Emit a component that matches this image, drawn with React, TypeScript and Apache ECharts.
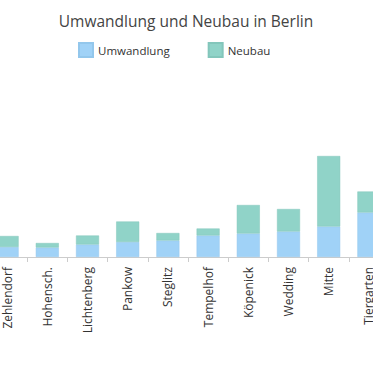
import React, { useEffect, useRef } from "react";
import * as echarts from "echarts";

const categories = ["Zehlendorf", "Hohensch.", "Lichtenberg", "Pankow", "Steglitz", "Tempelhof", "Köpenick", "Wedding", "Mitte", "Tiergarten"];
const umwandlung = [100, 95, 125, 150, 165, 215, 235, 255, 305, 445];
const neubau = [110, 45, 90, 205, 75, 70, 285, 225, 705, 210];

const OFFSET = 13;

export default function App() {
  const ref = useRef<HTMLDivElement>(null);
  useEffect(() => {
    if (!ref.current) return;
    const chart = echarts.init(ref.current, null, { renderer: "svg" });
    const font = "'Open Sans', 'Noto Sans', sans-serif";
    chart.setOption({
      animation: false,
      textStyle: { fontFamily: font },
      title: {
        text: "Umwandlung und Neubau in Berlin",
        left: 181 + OFFSET,
        textAlign: "center",
        top: 8,
        textStyle: { fontSize: 15.5, fontWeight: "normal", color: "#444", fontFamily: font },
      },
      legend: {
        data: ["Umwandlung", "Neubau"],
        top: 37,
        left: 73 + OFFSET,
        itemWidth: 14,
        itemHeight: 14,
        itemGap: 38,
        icon: "rect",
        textStyle: { fontSize: 11.5, color: "#333", fontFamily: font },
      },
      grid: { left: 0, right: 0, top: 77, bottom: 116, containLabel: false },
      xAxis: {
        type: "category",
        data: categories,
        boundaryGap: true,
        axisLine: { lineStyle: { color: "#ccc" } },
        axisTick: { show: true, length: 5, lineStyle: { color: "#ccc" } },
        axisLabel: { rotate: 90, fontSize: 12, color: "#333", margin: 10, fontFamily: font },
      },
      yAxis: {
        type: "value",
        min: 0,
        max: 1800,
        show: false,
        splitLine: { show: false },
      },
      series: [
        {
          name: "Umwandlung",
          type: "bar",
          stack: "a",
          data: umwandlung,
          barWidth: 23,
          itemStyle: { color: "#a0d2f7", borderColor: "#93c7ec", borderWidth: 0.5 },
        },
        {
          name: "Neubau",
          type: "bar",
          stack: "a",
          data: neubau,
          barWidth: 23,
          itemStyle: { color: "#90d3c8", borderColor: "#83c6bb", borderWidth: 0.5 },
        },
      ],
    });
    return () => chart.dispose();
  }, []);
  return (
    <div style={{ position: "fixed", left: 0, top: 0, width: 373, height: 373, overflow: "hidden", background: "#fff" }}>
      <div ref={ref} style={{ position: "absolute", left: -OFFSET, top: 0, width: 402, height: 373 }} />
    </div>
  );
}
